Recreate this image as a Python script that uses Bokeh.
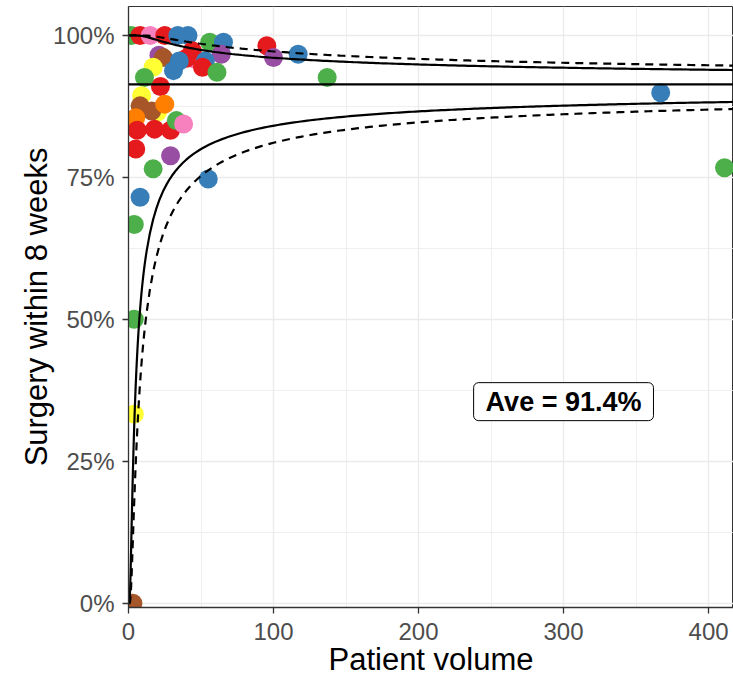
import math
import numpy as np
from bokeh.plotting import figure
from bokeh.models import Range1d, FixedTicker, Span, Label, ColumnDataSource
from bokeh.embed import file_html
from bokeh.resources import INLINE

# ---------------- data ----------------
SET1 = {"red": "#E41A1C", "blue": "#377EB8", "green": "#4DAF4A", "purple": "#984EA3",
        "orange": "#FF7F00", "yellow": "#FFFF33", "brown": "#A65628", "pink": "#F781BF"}

volume = [2, 8, 15, 25, 34, 41,
          56, 65.5, 95.4, 100, 117, 137, 367, 411,
          64, 46, 21, 24, 40, 44, 53, 51, 35, 31, 17, 61, 22, 11,
          20, 9, 8, 16, 25, 5, 6, 18, 29, 33, 38, 5, 29, 17, 55, 8, 4, 4, 4, 3]
percent = [100, 100, 100, 100, 100, 100,
           98.8, 98.8, 98.2, 96.1, 96.7, 92.6, 89.9, 76.7,
           96.7, 95.8, 96.5, 96.1, 96.0, 97.3, 95.5, 94.4, 95.5, 93.8, 94.4, 93.5, 91.0, 92.6,
           86.5, 89.4, 87.6, 86.7, 87.9, 85.5, 83.3, 83.5, 83.3, 85.0, 84.4, 80.0, 78.8, 76.5,
           74.7, 71.5, 66.7, 50.0, 33.3, 0.0]
group = ["green", "red", "pink", "red", "blue", "blue",
         "green", "blue", "red", "purple", "blue", "green", "blue", "green",
         "purple", "pink", "purple", "brown", "red", "red", "blue", "red", "blue", "blue", "yellow",
         "green", "red", "green",
         "yellow", "yellow", "brown", "brown", "orange", "orange", "red", "red", "red", "green",
         "pink", "red", "purple", "green", "blue", "blue", "green", "green", "yellow", "brown"]

AVERAGE = 0.914          # overall proportion
LEVELS = [0.95, 0.993]   # control limit levels (solid, dashed)
x_ticks = [0, 100, 200, 300, 400]
y_ticks = [0, 25, 50, 75, 100]
y_tick_labels = ["0%", "25%", "50%", "75%", "100%"]
X_MAX = 417.2
Y_MIN, Y_MAX = -0.76, 105.1


# ---------------- exact binomial (Clopper-Pearson) limits ----------------
def _betacf(a, b, x):
    fpmin = 1e-300
    qab, qap, qam = a + b, a + 1.0, a - 1.0
    c = 1.0
    d = 1.0 - qab * x / qap
    if abs(d) < fpmin:
        d = fpmin
    d = 1.0 / d
    h = d
    for m in range(1, 400):
        m2 = 2 * m
        aa = m * (b - m) * x / ((qam + m2) * (a + m2))
        d = 1.0 + aa * d
        if abs(d) < fpmin:
            d = fpmin
        c = 1.0 + aa / c
        if abs(c) < fpmin:
            c = fpmin
        d = 1.0 / d
        h *= d * c
        aa = -(a + m) * (qab + m) * x / ((a + m2) * (qap + m2))
        d = 1.0 + aa * d
        if abs(d) < fpmin:
            d = fpmin
        c = 1.0 + aa / c
        if abs(c) < fpmin:
            c = fpmin
        d = 1.0 / d
        de = d * c
        h *= de
        if abs(de - 1.0) < 3e-14:
            break
    return h


def _betai(a, b, x):
    if x <= 0.0:
        return 0.0
    if x >= 1.0:
        return 1.0
    lbt = math.lgamma(a + b) - math.lgamma(a) - math.lgamma(b) + a * math.log(x) + b * math.log(1.0 - x)
    bt = math.exp(lbt)
    if x < (a + 1.0) / (a + b + 2.0):
        return bt * _betacf(a, b, x) / a
    return 1.0 - bt * _betacf(b, a, 1.0 - x) / b


def _beta_ppf(q, a, b):
    lo, hi = 0.0, 1.0
    for _ in range(50):
        mid = 0.5 * (lo + hi)
        if _betai(a, b, mid) < q:
            lo = mid
        else:
            hi = mid
    return 0.5 * (lo + hi)


def limits(n_vals, level):
    alpha = 1.0 - level
    lo, hi = [], []
    for n in n_vals:
        x = AVERAGE * n
        lo.append(100 * _beta_ppf(alpha / 2, x, n - x + 1))
        hi.append(100 * _beta_ppf(1 - alpha / 2, x + 1, n - x))
    return lo, hi


n_grid = list(np.concatenate([np.linspace(0.05, 12, 120), np.linspace(12.5, X_MAX, 180)]))

# ---------------- figure ----------------
FONT = "Liberation Sans"
p = figure(width=733, height=679, x_range=Range1d(0, X_MAX), y_range=Range1d(Y_MIN, Y_MAX),
           output_backend="svg", toolbar_location=None,
           min_border_left=128, min_border_right=0, min_border_top=6, min_border_bottom=72)
p.background_fill_color = "white"
p.border_fill_color = "white"
p.outline_line_color = "#333333"
p.outline_line_width = 1

p.xaxis.ticker = FixedTicker(ticks=x_ticks, minor_ticks=[50, 150, 250, 350])
p.yaxis.ticker = FixedTicker(ticks=y_ticks, minor_ticks=[12.5, 37.5, 62.5, 87.5])
p.yaxis.major_label_overrides = {t: l for t, l in zip(y_ticks, y_tick_labels)}

for g in (p.xgrid, p.ygrid):
    g.grid_line_color = "#EBEBEB"
    g.grid_line_width = 1.4
    g.minor_grid_line_color = "#EBEBEB"
    g.minor_grid_line_width = 0.8

for ax in (p.xaxis, p.yaxis):
    ax.axis_line_color = "#333333"
    ax.axis_line_width = 1.3
    ax.major_tick_line_color = "#333333"
    ax.major_tick_line_width = 1.3
    ax.major_tick_out = 6
    ax.major_tick_in = 0
    ax.minor_tick_line_color = None
    ax.major_label_text_font = FONT
    ax.major_label_text_font_size = "24px"
    ax.major_label_text_color = "#4D4D4D"
    ax.axis_label_text_font = FONT
    ax.axis_label_text_font_size = "31px"
    ax.axis_label_text_font_style = "normal"
    ax.axis_label_text_color = "black"

p.xaxis.axis_label = "Patient volume"
p.yaxis.axis_label = "Surgery within 8 weeks"
p.xaxis.major_label_standoff = 9
p.xaxis.axis_label_standoff = -1
p.yaxis.major_label_standoff = 8
p.yaxis.axis_label_standoff = -4

src = ColumnDataSource(dict(x=volume, y=percent, c=[SET1[g] for g in group]))
p.scatter("x", "y", source=src, size=19, fill_color="c", line_color="c", line_width=0)

styles = ["solid", "8 6"]
for lvl, dash in zip(LEVELS, styles):
    lo, hi = limits(n_grid, lvl)
    p.line(n_grid, lo, line_color="black", line_width=2.2, line_dash=dash)
    p.line(n_grid, hi, line_color="black", line_width=2.2, line_dash=dash)

p.add_layout(Span(location=AVERAGE * 100, dimension="width", line_color="black", line_width=2.2))

p.add_layout(Label(x=300, y=35.5, text="Ave = 91.4%", text_font=FONT, text_font_size="27px",
                   text_font_style="bold", text_align="center", text_baseline="middle",
                   text_color="black", background_fill_color="white", border_line_color="black",
                   border_line_width=1, border_radius=5,
                   padding=dict(left=12, right=12, top=4, bottom=4)))

open("out.html", "w").write(file_html(p, INLINE))
